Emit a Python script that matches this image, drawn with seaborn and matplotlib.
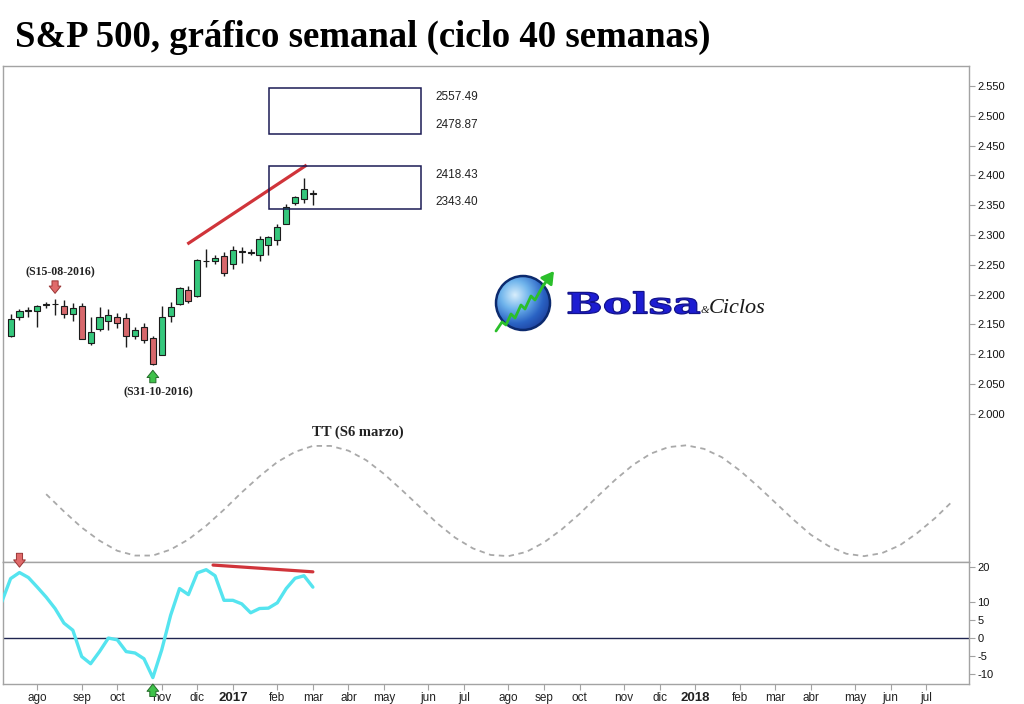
import numpy as np
import pandas as pd
import matplotlib
matplotlib.use("Agg")
import matplotlib.pyplot as plt
import matplotlib.dates as mdates
from matplotlib.patches import Rectangle, Circle, PathPatch
from matplotlib.textpath import TextPath
from matplotlib.font_manager import FontProperties
from matplotlib.transforms import Affine2D
from matplotlib.colors import LinearSegmentedColormap
import seaborn as sns

# S&P 500 weekly candles
weeks = pd.date_range("2016-07-11", periods=35, freq="7D")
opens = [2130, 2162, 2173, 2172, 2183, 2184, 2180, 2168, 2180, 2118, 2142, 2155, 2163, 2160, 2131,
         2146, 2127, 2099, 2164, 2184, 2208, 2198, 2257, 2257, 2265, 2251, 2272, 2270, 2266, 2284,
         2291, 2319, 2353, 2361, 2368]
closes = [2159, 2173, 2174, 2181, 2184, 2185, 2168, 2178, 2126, 2137, 2163, 2166, 2153, 2130, 2140,
          2124, 2083, 2162, 2179, 2211, 2189, 2258, 2257, 2262, 2236, 2275, 2273, 2271, 2294, 2296,
          2313, 2347, 2363, 2378, 2370]
highs = [2168, 2176, 2179, 2183, 2188, 2193, 2191, 2186, 2186, 2162, 2179, 2176, 2169, 2169, 2146,
         2153, 2131, 2181, 2187, 2213, 2214, 2260, 2277, 2267, 2272, 2281, 2280, 2277, 2299, 2299,
         2319, 2352, 2365, 2395, 2375]
lows = [2128, 2158, 2162, 2145, 2177, 2165, 2161, 2156, 2125, 2116, 2139, 2140, 2144, 2112, 2125,
        2119, 2082, 2098, 2154, 2183, 2186, 2196, 2246, 2252, 2231, 2243, 2253, 2267, 2257, 2267,
        2284, 2318, 2350, 2354, 2350]

# oscillator (lower panel)
osc_dates = pd.date_range("2016-07-04", periods=36, freq="7D")
osc_vals = [10.1, 16.7, 18.4, 17.0, 14.3, 11.5, 8.3, 4.2, 2.2, -5.2, -7.2, -3.8, 0.0, -0.5, -3.8,
            -4.2, -5.8, -11.1, -3.3, 6.4, 13.9, 12.2, 18.3, 19.2, 17.5, 10.6, 10.6, 9.6, 7.1, 8.3,
            8.4, 9.9, 13.9, 16.8, 17.5, 14.3]

# 40-week cycle line (dashed), read every two weeks
cycle_dates = pd.date_range("2016-08-08", "2018-07-23", freq="14D")
cycle_vals = [1865, 1836, 1809, 1787, 1770, 1762, 1762, 1772, 1789, 1812,
              1839, 1868, 1895, 1919, 1936, 1946, 1946, 1938, 1922, 1899,
              1872, 1844, 1816, 1792, 1774, 1763, 1761, 1768, 1784, 1806,
              1832, 1861, 1889, 1914, 1933, 1944, 1947, 1941, 1927, 1905,
              1879, 1851, 1823, 1797, 1778, 1765, 1761, 1766, 1779, 1800,
              1825, 1854]

# projection boxes and their labels
box_levels = [(2470, 2546), (2343, 2415)]
box_labels = ["2557.49", "2478.87", "2418.43", "2343.40"]
box_label_levels = [2531, 2484, 2401, 2355]

price_ticks = list(range(2000, 2551, 50))
osc_ticks = [-10, -5, 0, 5, 10, 20]

tick_dates = ["2016-08-01", "2016-09-05", "2016-10-03", "2016-11-07", "2016-12-05", "2017-01-02",
              "2017-02-06", "2017-03-06", "2017-04-03", "2017-05-01", "2017-06-05", "2017-07-03",
              "2017-08-07", "2017-09-04", "2017-10-02", "2017-11-06", "2017-12-04", "2018-01-01",
              "2018-02-05", "2018-03-05", "2018-04-02", "2018-05-07", "2018-06-04", "2018-07-02"]
tick_labels = ["ago", "sep", "oct", "nov", "dic", "2017", "feb", "mar", "abr", "may", "jun", "jul",
               "ago", "sep", "oct", "nov", "dic", "2018", "feb", "mar", "abr", "may", "jun", "jul"]

sns.set_theme(style="white")
plt.rcParams["font.family"] = ["Liberation Sans", "DejaVu Sans"]
plt.rcParams["axes.unicode_minus"] = False

GREEN = "#35c77c"
RED = "#d7686c"
EDGE = "#1c1c1c"
SPINE = "#a3a3a3"


def wk(w):
    # position relative to the first weekly bar
    return mdates.date2num(weeks[0] + pd.Timedelta(days=7 * w))


fig = plt.figure(figsize=(10.24, 7.04), dpi=100)
ax = fig.add_axes([3 / 1024, 1 - 561.5 / 704, 966 / 1024, (561.5 - 66) / 704])
ax2 = fig.add_axes([3 / 1024, 1 - 684 / 704, 966 / 1024, (684 - 561.5) / 704], sharex=ax)

# ---- price panel ----
o = np.array(opens)
c = np.array(closes)
diff = c - o
colors = [GREEN if d > 2 else (RED if d < -2 else EDGE) for d in diff]
ax.vlines(weeks, lows, highs, color=EDGE, lw=1.0, zorder=2)
ax.bar(weeks, np.abs(diff), bottom=np.minimum(o, c), width=4.8, color=colors,
       edgecolor=EDGE, linewidth=0.8, zorder=3)

sns.lineplot(x=cycle_dates, y=cycle_vals, ax=ax, color="#a9a9a9", lw=1.3,
             linestyle=(0, (3, 2.5)), zorder=1)

# trend line over the highs
ax.plot([wk(19.88), wk(33.3)], [2284.8, 2417.4], color="#d0343a", lw=2.3, zorder=4,
        solid_capstyle="butt")

for lo, hi in box_levels:
    ax.add_patch(Rectangle((wk(29.1), lo), wk(46.13) - wk(29.1), hi - lo, fill=False,
                           ec="#1b1b55", lw=1.1, zorder=4))
for lab, lev in zip(box_labels, box_label_levels):
    ax.text(wk(47.74), lev, lab, ha="left", va="center", fontsize=8.5, color="#222222")

serif = ["Liberation Serif", "DejaVu Serif"]
ax.text(wk(5.56), 2238, "(S15-08-2016)", ha="center", va="center", fontsize=8.6,
        fontweight="bold", family=serif, color="#222222")
ax.text(wk(16.6), 2036, "(S31-10-2016)", ha="center", va="center", fontsize=8.6,
        fontweight="bold", family=serif, color="#222222")
ax.text(wk(39.1), 1969, "TT (S6 marzo)", ha="center", va="center", fontsize=10.5,
        fontweight="bold", family=serif, color="#222222")

arrow_style = "simple,head_length=0.5,head_width=0.8,tail_width=0.42"


def block_arrow(axis, x, y, dy, fc, ec):
    axis.annotate("", xy=(x, y), xytext=(0, dy), textcoords="offset points",
                  annotation_clip=False,
                  arrowprops=dict(arrowstyle=arrow_style, fc=fc, ec=ec, lw=0.7,
                                  mutation_scale=10.5, shrinkA=0, shrinkB=0),
                  zorder=6)


block_arrow(ax, wk(5), 2202, 9, "#e06a6a", "#9a3535")
block_arrow(ax, wk(16), 2073, -9, "#3fc24a", "#246b2a")

ax.set_ylim(1752, 2583.6)
ax.set_yticks(price_ticks)
ax.set_yticklabels([f"{v // 1000}.{v % 1000:03d}" for v in price_ticks])
ax.yaxis.tick_right()
ax.tick_params(axis="y", direction="out", length=4, width=0.8, color=SPINE,
               labelsize=8, labelcolor="#111111", pad=2, right=True, left=False)
ax.tick_params(axis="x", bottom=False, labelbottom=False)
ax.set_xlabel("")
ax.set_ylabel("")

# ---- oscillator panel ----
ax2.axhline(0, color="#1f2450", lw=1.0, zorder=1)
sns.lineplot(x=osc_dates, y=osc_vals, ax=ax2, color="#55e4ef", lw=2.4, zorder=3)
ax2.plot([wk(22.77), wk(34.0)], [20.5, 18.6], color="#d0343a", lw=2.3, zorder=4)
block_arrow(ax2, wk(1), 19.9, 10, "#e06a6a", "#9a3535")
block_arrow(ax2, wk(16), -12.9, -9, "#3fc24a", "#246b2a")

ax2.set_ylim(-12.9, 21.5)
ax2.set_yticks(osc_ticks)
ax2.yaxis.tick_right()
ax2.tick_params(axis="y", direction="out", length=4, width=0.8, color=SPINE,
                labelsize=8, labelcolor="#111111", pad=2, right=True, left=False)
ax2.set_xlabel("")
ax2.set_ylabel("")

ax2.set_xlim(wk(-0.855), wk(107.8))
ax2.set_xticks(mdates.date2num(pd.to_datetime(tick_dates)))
ax2.set_xticklabels(tick_labels)
ax2.tick_params(axis="x", direction="out", length=4, width=0.8, color=SPINE,
                labelsize=8.5, labelcolor="#222222", pad=1.5, bottom=True)
for lab in ax2.get_xticklabels():
    if lab.get_text().isdigit():
        lab.set_fontweight("bold")
        lab.set_fontsize(9.5)

for a in (ax, ax2):
    for s in a.spines.values():
        s.set_color(SPINE)
        s.set_linewidth(1.0)
    a.set_facecolor("white")

# ---- title ----
fig.text(15 / 1024, 1 - 47 / 704, "S&P 500, gráfico semanal (ciclo 40 semanas)",
         fontsize=26.5, fontweight="bold", family=serif, va="baseline", ha="left",
         color="black")

# ---- logo (pixel-coordinate overlay) ----
ov = fig.add_axes([0, 0, 1, 1])
ov.patch.set_visible(False)
ov.axis("off")
cmap = LinearSegmentedColormap.from_list("globe", ["#d8eefc", "#6fb4ec", "#2a63c4", "#1a3590"])
yy, xx = np.mgrid[-1:1:120j, -1:1:120j]
grad = np.sqrt((xx + 0.3) ** 2 + (yy + 0.3) ** 2)
im = ov.imshow(grad, extent=(496, 550, 330, 276), origin="upper", cmap=cmap,
               aspect="auto", zorder=5, vmin=0, vmax=1.6)
clip = Circle((523, 303), 27, transform=ov.transData)
im.set_clip_path(clip)
ov.add_patch(Circle((523, 303), 27, fill=False, ec="#0c2a6e", lw=1.8, zorder=6))
zig_x = [496, 502, 506, 511, 515, 521, 525, 531, 535, 544]
zig_y = [331, 322, 325, 314, 318, 305, 309, 296, 300, 284]
ov.plot(zig_x, zig_y, color="#2bbf2b", lw=2.0, zorder=7)
ov.annotate("", xy=(554, 271), xytext=(543, 286), zorder=7,
            arrowprops=dict(arrowstyle="-|>,head_length=0.6,head_width=0.35",
                            color="#2bbf2b", lw=2.0, shrinkA=0, shrinkB=0))

tp = TextPath((0, 0), "Bolsa", size=100, prop=FontProperties(family="DejaVu Serif", weight="bold"))
ext = tp.get_extents()
tr = (Affine2D().translate(-ext.x0, 0).scale(132 / ext.width, -22 / ext.y1)
      .translate(568, 313.5))
ov.add_patch(PathPatch(tr.transform_path(tp), fc="#1d1dd2", ec="#12128c", lw=0.9, zorder=7))
ov.text(701, 313, "&", fontsize=8, family=serif, style="italic", color="#1a1a1a",
        va="baseline", ha="left", zorder=7)
ov.text(709, 313, "Ciclos", fontsize=16, family=serif, style="italic", color="#1a1a1a",
        va="baseline", ha="left", zorder=7)
ov.set_xlim(0, 1024)
ov.set_ylim(704, 0)

fig.savefig("out.png", dpi=100)
